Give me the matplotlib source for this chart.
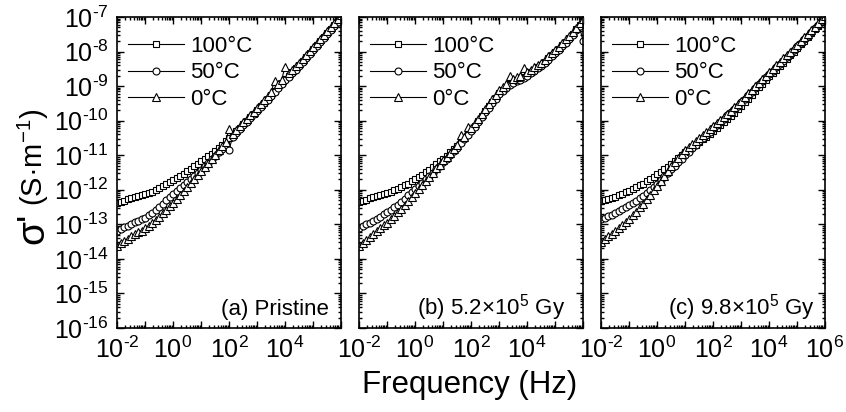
import numpy as np
import matplotlib
matplotlib.use("Agg")
import matplotlib.pyplot as plt
from matplotlib.ticker import LogLocator, NullFormatter

plt.rcParams['font.family'] = ['Liberation Sans', 'DejaVu Sans']
plt.rcParams['mathtext.fontset'] = 'custom'
plt.rcParams['mathtext.rm'] = 'Liberation Sans'
plt.rcParams['mathtext.it'] = 'Liberation Sans:italic'
plt.rcParams['mathtext.bf'] = 'Liberation Sans:bold'
plt.rcParams['mathtext.default'] = 'regular'

# frequency sweep, 8 points per decade, 1e-2 .. 1e6 Hz
freq = np.logspace(-2, 6, 65)

temps = ['100°C', '50°C', '0°C']
markers = ['s', 'o', '^']
msizes = [4.6, 5.0, 5.6]
panel_labels = ['(a) Pristine', '(b) 5.2×10$^5$ Gy', '(c) 9.8×10$^5$ Gy']

# log10 of sigma' (S/m)
a_100 = [-12.38, -12.35, -12.32, -12.28, -12.25, -12.22, -12.19, -12.16, -12.13, -12.09, -12.05, -12.01, -11.96,
         -11.90, -11.84, -11.78, -11.72, -11.66, -11.59, -11.53, -11.46, -11.39, -11.32, -11.25, -11.18, -11.11,
         -11.03, -10.96, -10.88, -10.79, -10.69, -10.60, -10.50, -10.40, -10.30, -10.20, -10.10, -10.00, -9.90,
         -9.80, -9.70, -9.59, -9.48, -9.36, -9.25, -9.14, -9.02, -8.91, -8.80, -8.70, -8.59, -8.49, -8.38, -8.27,
         -8.15, -8.04, -7.92, -7.80, -7.69, -7.57, -7.45, -7.34, -7.23, -7.11, -7.00]
a_50 = [-13.18, -13.14, -13.09, -13.04, -12.99, -12.94, -12.90, -12.86, -12.82, -12.74, -12.66, -12.58, -12.50,
        -12.41, -12.31, -12.22, -12.12, -12.04, -11.95, -11.87, -11.78, -11.69, -11.60, -11.51, -11.42, -11.32,
        -11.22, -11.12, -11.02, -10.92, -10.81, -10.71, -10.85, -10.48, -10.36, -10.25, -10.13, -10.03, -9.93,
        -9.82, -9.72, -9.61, -9.50, -9.39, -9.28, -9.17, -9.05, -8.94, -8.83, -8.73, -8.62, -8.52, -8.41, -8.30,
        -8.18, -8.07, -7.95, -7.83, -7.72, -7.60, -7.48, -7.37, -7.26, -7.14, -7.03]
a_0 = [-13.62, -13.55, -13.48, -13.42, -13.35, -13.29, -13.23, -13.18, -13.12, -13.04, -12.95, -12.87, -12.78,
       -12.68, -12.58, -12.48, -12.38, -12.27, -12.16, -12.04, -11.93, -11.81, -11.69, -11.57, -11.45, -11.33,
       -11.22, -11.10, -10.98, -10.86, -10.74, -10.62, -10.25, -10.39, -10.28, -10.16, -10.05, -9.95, -9.85,
       -9.74, -9.64, -9.53, -9.41, -9.30, -9.18, -8.85, -8.95, -8.83, -8.45, -8.62, -8.52, -8.42, -8.32, -8.21,
       -8.09, -7.98, -7.86, -7.75, -7.63, -7.52, -7.40, -7.29, -7.17, -7.06, -6.95]

b_100 = [-12.35, -12.32, -12.29, -12.25, -12.22, -12.19, -12.16, -12.13, -12.10, -12.06, -12.02, -11.97, -11.93,
         -11.87, -11.82, -11.76, -11.70, -11.63, -11.56, -11.49, -11.42, -11.34, -11.26, -11.18, -11.10, -11.01,
         -10.91, -10.82, -10.72, -10.61, -10.50, -10.39, -10.28, -10.14, -10.00, -9.86, -9.72, -9.59, -9.46,
         -9.33, -9.20, -9.11, -9.03, -8.95, -8.88, -8.83, -8.78, -8.73, -8.68, -8.60, -8.53, -8.45, -8.38, -8.29,
         -8.20, -8.11, -8.02, -7.92, -7.81, -7.71, -7.60, -7.48, -7.36, -7.24, -7.12]
b_50 = [-13.10, -13.05, -13.00, -12.95, -12.90, -12.84, -12.78, -12.71, -12.65, -12.58, -12.50, -12.43, -12.35,
        -12.26, -12.16, -12.07, -11.98, -11.89, -11.79, -11.70, -11.60, -11.50, -11.40, -11.30, -11.20, -11.10,
        -10.99, -10.89, -10.78, -10.66, -10.54, -10.42, -10.30, -10.17, -10.03, -9.89, -9.75, -9.62, -9.49,
        -9.36, -9.23, -9.14, -9.06, -8.98, -8.91, -8.86, -8.81, -8.76, -8.71, -8.63, -8.56, -8.48, -8.41, -8.32,
        -8.23, -8.14, -8.05, -7.95, -7.84, -7.74, -7.63, -7.51, -7.39, -7.27, -7.70]
b_0 = [-13.62, -13.53, -13.45, -13.36, -13.28, -13.20, -13.12, -13.03, -12.95, -12.85, -12.75, -12.65, -12.55,
       -12.44, -12.32, -12.21, -12.10, -11.98, -11.86, -11.74, -11.62, -11.50, -11.38, -11.27, -11.15, -11.04,
       -10.93, -10.81, -10.70, -10.42, -10.46, -10.18, -10.22, -10.08, -9.94, -9.80, -9.66, -9.52, -9.38,
       -9.25, -9.12, -9.03, -8.95, -8.72, -8.80, -8.75, -8.70, -8.48, -8.60, -8.53, -8.46, -8.39, -8.32, -8.23,
       -8.14, -8.05, -7.96, -7.86, -7.76, -7.65, -7.55, -7.43, -7.31, -7.18, -7.06]

c_100 = [-12.33, -12.30, -12.27, -12.23, -12.20, -12.16, -12.12, -12.07, -12.03, -11.98, -11.93, -11.87, -11.82,
         -11.75, -11.69, -11.62, -11.55, -11.48, -11.40, -11.33, -11.25, -11.17, -11.09, -11.00, -10.92, -10.85,
         -10.77, -10.70, -10.62, -10.54, -10.46, -10.38, -10.30, -10.21, -10.13, -10.04, -9.95, -9.86, -9.77,
         -9.67, -9.58, -9.47, -9.37, -9.26, -9.15, -9.04, -8.94, -8.83, -8.72, -8.62, -8.52, -8.42, -8.32, -8.22,
         -8.11, -8.01, -7.90, -7.79, -7.69, -7.58, -7.47, -7.36, -7.26, -7.15, -7.04]
c_50 = [-12.85, -12.81, -12.76, -12.72, -12.67, -12.62, -12.56, -12.51, -12.45, -12.38, -12.32, -12.25, -12.18,
        -12.09, -12.00, -11.91, -11.82, -11.72, -11.61, -11.51, -11.40, -11.30, -11.20, -11.10, -11.00, -10.90,
        -10.80, -10.70, -10.60, -10.51, -10.41, -10.32, -10.22, -10.13, -10.04, -9.94, -9.85, -9.76, -9.66,
        -9.57, -9.47, -9.37, -9.26, -9.16, -9.05, -8.95, -8.85, -8.75, -8.65, -8.55, -8.46, -8.36, -8.26, -8.16,
        -8.06, -7.95, -7.85, -7.75, -7.64, -7.54, -7.43, -7.32, -7.22, -7.11, -7.00]
c_0 = [-13.50, -13.43, -13.35, -13.28, -13.20, -13.11, -13.03, -12.94, -12.85, -12.74, -12.63, -12.51, -12.40,
       -12.27, -12.14, -12.01, -11.88, -11.74, -11.60, -11.46, -11.32, -11.20, -11.09, -10.97, -10.85, -10.76,
       -10.68, -10.59, -10.50, -10.41, -10.33, -10.24, -10.15, -10.06, -9.98, -9.89, -9.80, -9.71, -9.61,
       -9.52, -9.42, -9.32, -9.21, -9.11, -9.00, -8.90, -8.80, -8.70, -8.60, -8.50, -8.40, -8.30, -8.20, -8.10,
       -8.00, -7.90, -7.80, -7.70, -7.59, -7.49, -7.38, -7.28, -7.17, -7.07, -6.97]

panels = [[a_100, a_50, a_0], [b_100, b_50, b_0], [c_100, c_50, c_0]]


def pow_label(e):
    # hyphen-style minus like the original figure
    s = str(e).replace('-', '\u2010')
    return r'$10^{%s}$' % s


fig = plt.figure(figsize=(8.46, 4.12), dpi=100)
lefts = [117, 359, 601]
W, H = 846, 412

for i, (left, series) in enumerate(zip(lefts, panels)):
    ax = fig.add_axes([left / W, 1 - 328 / H, 224 / W, 311 / H])
    for lab, mk, ms, vals in zip(temps, markers, msizes, series):
        ax.plot(freq, 10.0 ** np.array(vals), color='black', lw=0.8, marker=mk, ms=ms,
                mfc='white', mec='black', mew=0.8, label=lab)
    ax.set_xscale('log')
    ax.set_yscale('log')
    ax.set_xlim(1e-2, 1e6)
    ax.set_ylim(1e-16, 1e-7)

    ax.set_xticks(10.0 ** np.arange(-2, 7))
    xl = []
    for e in range(-2, 7):
        if e % 2 == 0 and (e < 6 or i == 2):
            xl.append(pow_label(e))
        else:
            xl.append('')
    ax.set_xticklabels(xl)
    ax.set_yticks(10.0 ** np.arange(-16, -6))
    if i == 0:
        ax.set_yticklabels([pow_label(e) for e in range(-16, -6)])
    else:
        ax.set_yticklabels([])
    ax.xaxis.set_minor_locator(LogLocator(base=10, subs=np.arange(2, 10), numticks=20))
    ax.yaxis.set_minor_locator(LogLocator(base=10, subs=np.arange(2, 10), numticks=20))
    ax.xaxis.set_minor_formatter(NullFormatter())
    ax.yaxis.set_minor_formatter(NullFormatter())
    ax.tick_params(which='both', direction='in', top=True, right=True, labelsize=18, width=1.0)
    ax.tick_params(which='major', length=5, pad=6)
    ax.tick_params(which='minor', length=2.5)
    for s in ax.spines.values():
        s.set_linewidth(1.2)

    ax.legend(loc='upper left', bbox_to_anchor=(0.0, 0.975), frameon=False, fontsize=16,
              handlelength=2.5, handletextpad=0.3, labelspacing=0.25, borderaxespad=0.2, borderpad=0.3)
    rx = [0.946, 0.92, 0.955][i]
    ax.text(rx, 0.042, panel_labels[i], transform=ax.transAxes, ha='right', va='baseline', fontsize=16)

fig.text(470 / W, 1 - 385 / H, 'Frequency (Hz)', ha='center', va='center', fontsize=22.5)
fig.text(33 / W, 1 - 228 / H, "σ'", rotation=90, ha='center', va='center', fontsize=28)
fig.text(33 / W, 1 - 157 / H, r'(S·m$^{-1}$)', rotation=90, ha='center', va='center', fontsize=21)

fig.savefig('out.png', dpi=100)
